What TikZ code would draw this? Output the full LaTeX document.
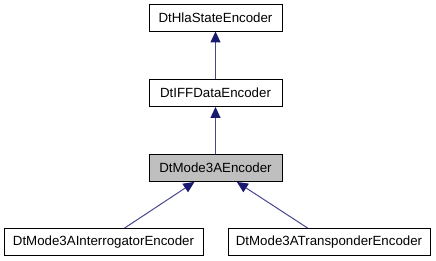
\documentclass[tikz,border=0pt]{standalone}
\usepackage{fontspec}
\setmainfont{Liberation Sans}
\usetikzlibrary{arrows.meta}
\definecolor{edgeblue}{RGB}{25,25,112}
\definecolor{boxgray}{RGB}{191,191,191}
\tikzset{
  cls/.style={draw=black, line width=0.9pt, fill=white, minimum height=27pt,
    inner sep=0pt, font=\fontsize{13.3}{16}\selectfont, text=black},
  cur/.style={cls, fill=boxgray},
  inh/.style={draw=edgeblue!80!white, line width=1pt,
    -{Triangle[length=11pt,width=10pt,fill=edgeblue,color=edgeblue]}}
}
\begin{document}
\begin{tikzpicture}[x=1pt,y=1pt]
\useasboundingbox (0,0) rectangle (436,261);
\node[cls, minimum width=133pt] (A) at (215.5,243.5) {DtHlaStateEncoder};
\node[cls, minimum width=133pt] (B) at (215.5,168) {DtIFFDataEncoder};
\node[cur, minimum width=133pt] (C) at (215.5,93) {DtMode3AEncoder};
\node[cls, minimum width=199pt] (D) at (103.5,19) {DtMode3AInterrogatorEncoder};
\node[cls, minimum width=202pt] (E) at (329,19) {DtMode3ATransponderEncoder};
\draw[inh] (B) -- (A);
\draw[inh] (C) -- (B);
\draw[inh] (D) -- (C);
\draw[inh] (E) -- (C);
\end{tikzpicture}
\end{document}
